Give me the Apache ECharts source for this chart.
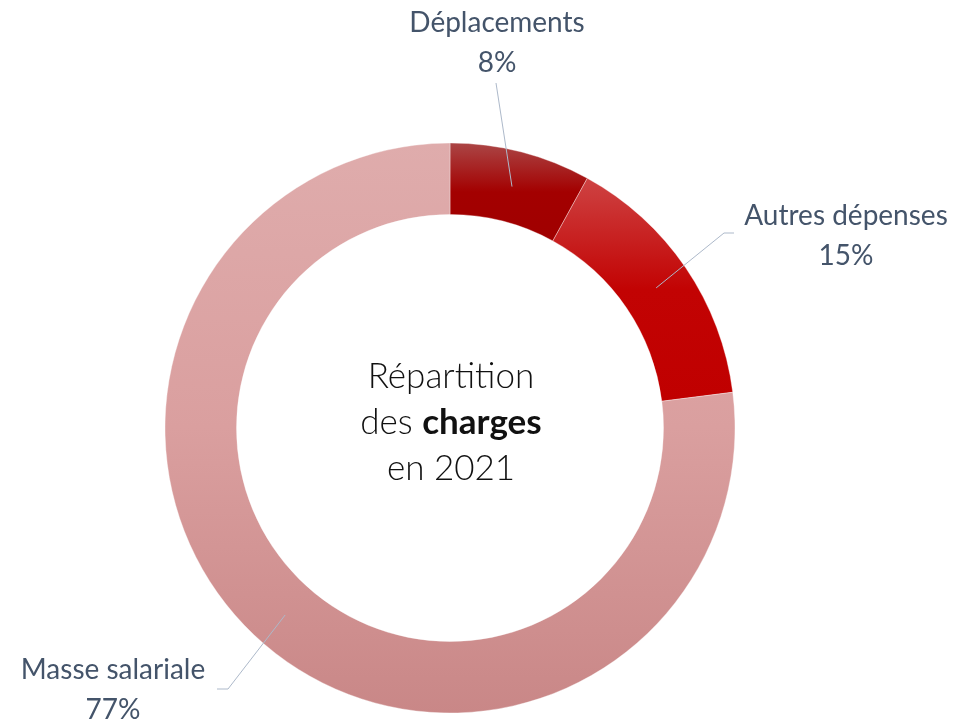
<!DOCTYPE html>
<html>
<head>
<meta charset="utf-8">
<script src="https://cdn.jsdelivr.net/npm/echarts@6/dist/echarts.min.js"></script>
<style>
  html, body { margin: 0; padding: 0; background: #fff; }
  #chart { width: 957px; height: 723px; }
</style>
</head>
<body>
<div id="chart"></div>
<script>
var categories = ['Déplacements', 'Autres dépenses', 'Masse salariale'];
var values = [8, 15, 77];
var sliceColors = [
    ['#ab4646', '#a30000', '#a00000'],
    ['#ce4343', '#c20303', '#c00000'],
    ['#dfacac', '#da9f9f', '#c98787']
];
// label placement (centre of the two-line label) and the outer part of each leader line
var labelPos = [[497, 43], [846, 236], [113, 690]];
var lineEnds = [[[496, 83]], [[724, 233], [734, 233]], [[228, 689], [217, 689]]];

var cx = 450, cy = 428, rIn = 213.5, rOut = 285;
var total = values.reduce(function (a, b) { return a + b; }, 0);

// point in the middle of the ring, at the middle angle of slice i
function midPoint(i) {
    var before = 0;
    for (var k = 0; k < i; k++) before += values[k];
    var a = (before + values[i] / 2) / total * Math.PI * 2;
    var r = (rIn + rOut) / 2;
    return [cx + r * Math.sin(a), cy - r * Math.cos(a)];
}

var seriesData = categories.map(function (name, i) {
    var c = sliceColors[i];
    return {
        name: name,
        value: values[i],
        itemStyle: {
            color: new echarts.graphic.LinearGradient(0, 0, 0, 1, [
                { offset: 0, color: c[0] },
                { offset: 0.5, color: c[1] },
                { offset: 1, color: c[2] }
            ])
        }
    };
});

var leaderLines = categories.map(function (name, i) {
    return {
        type: 'polyline',
        z: 100,
        silent: true,
        shape: { points: [midPoint(i)].concat(lineEnds[i]) },
        style: { stroke: '#adb9ca', lineWidth: 1, fill: null }
    };
});

var option = {
    backgroundColor: '#ffffff',
    animation: false,
    graphic: [{
        type: 'text',
        x: 451,
        y: 423,
        silent: true,
        style: {
            text: '{a|Répartition}\n{a|des }{b|charges}\n{a|en 2021}',
            align: 'center',
            verticalAlign: 'middle',
            rich: {
                a: { fontFamily: 'Lato', fontWeight: 300, fontSize: 35, lineHeight: 46, fill: '#111111' },
                b: { fontFamily: 'Lato', fontWeight: 'bold', fontSize: 35, lineHeight: 46, fill: '#111111' }
            }
        }
    }].concat(leaderLines),
    series: [{
        type: 'pie',
        center: [cx, cy],
        radius: [rIn, rOut],
        startAngle: 90,
        clockwise: true,
        silent: true,
        emphasis: { disabled: true },
        itemStyle: {
            borderColor: 'rgba(255,255,255,0.6)',
            borderWidth: 0.6
        },
        label: {
            show: true,
            formatter: '{b}\n{d}%',
            fontFamily: 'Lato',
            fontSize: 28,
            lineHeight: 40,
            color: '#44546a',
            align: 'center'
        },
        labelLine: { show: false },
        labelLayout: function (params) {
            var p = labelPos[params.dataIndex];
            return {
                x: p[0],
                y: p[1],
                align: 'center',
                verticalAlign: 'middle'
            };
        },
        data: seriesData
    }]
};

var myChart = echarts.init(document.getElementById('chart'));
myChart.setOption(option);
</script>
</body>
</html>
